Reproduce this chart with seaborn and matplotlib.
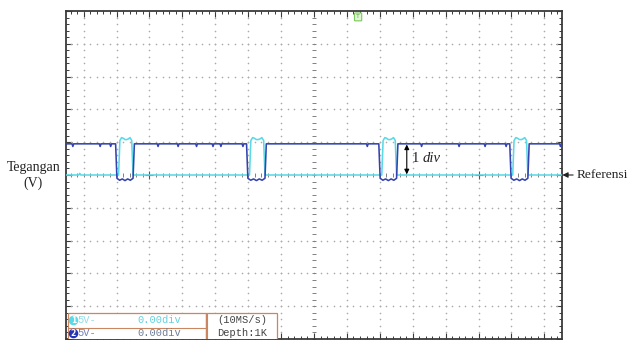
import numpy as np
import pandas as pd
import matplotlib
matplotlib.use("Agg")
import matplotlib.pyplot as plt
from matplotlib.patches import Rectangle, FancyBboxPatch
import seaborn as sns

# ---- screen values, in divisions (center of screen = 0, 0) ----
X_MIN, X_MAX = -7.55, 7.55
Y_MIN, Y_MAX = -5.0, 5.0

# channel 2 (blue): idle level and the low stretches while channel 1 pulses
blue_high = 0.95
pulse_start = [-6.02, -2.04, 1.98, 5.96]
pulse_end = [-5.47, -1.46, 2.54, 6.53]
blue_low_profile = [-0.10, -0.16, -0.12, -0.17, -0.12, -0.16, -0.10]
blue_glitches = [-7.33, -6.50, -6.18, -4.74, -4.13, -3.57, -3.07, -2.83,
                 -2.16, 1.62, 3.27, 4.41, 5.20, 5.84, 7.49]
blue_glitch_depth = 0.08

# channel 1 (cyan): reference level and pulse tops
cyan_base = 0.0
cyan_rise_delay = 0.09
cyan_fall_lead = 0.04
cyan_high_profile = [1.05, 1.14, 1.12, 1.08, 1.08, 1.10, 1.14, 1.05]
cyan_bumps = [-7.12]
cyan_bump_height = 0.05

trigger_pos = 1.34
div_arrow_x = 2.82

ch_scale = ["5V-", "5V-"]
ch_offset = ["0.00div", "0.00div"]
acq_info = ["(10MS/s)", "Depth:1K"]

BLUE = "#3443ae"
CYAN = "#5ad9e6"
FRAME = "#3a3a3a"
GRIDC = "#ababab"
BOXC = "#c98660"


def blue_trace():
    pts = [(X_MIN, blue_high)]
    for g in blue_glitches:
        pts += [(g - 0.025, blue_high), (g, blue_high - blue_glitch_depth),
                (min(g + 0.025, X_MAX), blue_high)]
    for s, e in zip(pulse_start, pulse_end):
        xs = np.linspace(s + 0.03, e - 0.03, len(blue_low_profile))
        pts += [(s - 0.01, blue_high)]
        pts += list(zip(xs, blue_low_profile))
        pts += [(e + 0.01, blue_high)]
    pts.append((X_MAX, blue_high))
    pts.sort(key=lambda p: p[0])
    return pts


def cyan_trace():
    pts = [(X_MIN, cyan_base)]
    for b in cyan_bumps:
        pts += [(b - 0.03, cyan_base), (b, cyan_base + cyan_bump_height),
                (b + 0.03, cyan_base)]
    for s, e in zip(pulse_start, pulse_end):
        a, b = s + cyan_rise_delay, e - cyan_fall_lead
        xs = np.linspace(a + 0.03, b - 0.03, len(cyan_high_profile))
        pts += [(a - 0.01, cyan_base)]
        pts += list(zip(xs, cyan_high_profile))
        pts += [(b + 0.01, cyan_base)]
    pts.append((X_MAX, cyan_base))
    pts.sort(key=lambda p: p[0])
    return pts


traces = {"CH1": np.array(cyan_trace()), "CH2": np.array(blue_trace())}

sns.set_theme(style="white")
plt.rcParams["font.family"] = ["DejaVu Sans"]

fig = plt.figure(figsize=(6.32, 3.40), dpi=100)
ax = fig.add_axes([65.6 / 632, 1.0 / 340, 496.8 / 632, 328.0 / 340])
ax.set_xlim(X_MIN, X_MAX)
ax.set_ylim(Y_MIN, Y_MAX)

# dotted graticule
dot_kw = dict(s=1.4, color=GRIDC, linewidths=0, zorder=1)
ys = np.arange(-5.0, 5.0001, 0.2)
xs_all = np.arange(-7.4, 7.5001, 0.2)
for gx in range(-7, 8):
    if gx == 0:
        continue
    ax.scatter(np.full_like(ys, gx), ys, **dot_kw)
for gy in range(-4, 5):
    if gy == 0:
        continue
    ax.scatter(xs_all, np.full_like(xs_all, gy), **dot_kw)
# center axes with small ticks
ax.scatter(np.zeros_like(ys), ys, marker="_", s=9, color="#808080",
           linewidths=0.7, zorder=1)
ax.scatter(xs_all, np.zeros_like(xs_all), marker="|", s=9, color="#808080",
           linewidths=0.7, zorder=1)
ax.scatter([-5, 5], [0, 0], marker="+", s=40, color="#555555",
           linewidths=0.8, zorder=1)

# the two channel traces
for name, col in (("CH1", CYAN), ("CH2", BLUE)):
    arr = traces[name]
    sns.lineplot(x=arr[:, 0], y=arr[:, 1], sort=False, estimator=None,
                 color=col, linewidth=1.15, ax=ax, zorder=3)

ax.set_xlabel("")
ax.set_ylabel("")
ax.set_xticks(np.arange(-7, 8, 1))
ax.set_yticks(np.arange(-5, 6, 1))
ax.set_xticks(np.arange(-7.4, 7.55, 0.2), minor=True)
ax.set_yticks(np.arange(-5, 5.01, 0.2), minor=True)
ax.tick_params(which="both", direction="in", top=True, right=True,
               bottom=True, left=True, labelbottom=False, labelleft=False,
               color=FRAME)
ax.tick_params(which="major", length=4, width=0.8)
ax.tick_params(which="minor", length=2.5, width=0.7)
for sp in ax.spines.values():
    sp.set_color(FRAME)
    sp.set_linewidth(1.3)

# trigger marker
ax.add_patch(FancyBboxPatch((trigger_pos - 0.09, 4.72), 0.18, 0.2,
                            boxstyle="round,pad=0.02", facecolor="#dff5d4",
                            edgecolor="#7cc95e", linewidth=0.8, zorder=5))
ax.text(trigger_pos, 4.82, "T", ha="center", va="center", fontsize=4.5,
        color="#5aa83e", zorder=6)

# 1 div marker
ax.annotate("", xy=(div_arrow_x, blue_high - 0.02), xytext=(div_arrow_x, 0.02),
            arrowprops=dict(arrowstyle="<|-|>", color="black", lw=0.8,
                            mutation_scale=7, shrinkA=0, shrinkB=0), zorder=6)
ax.text(2.98, 0.50, "1", fontsize=10.5, family="Liberation Serif",
        ha="left", va="center", color="#222222")
ax.text(3.30, 0.50, "div", fontsize=10.5, family="Liberation Serif",
        style="italic", ha="left", va="center", color="#222222")

# channel / acquisition info box
box_top, box_mid = -4.21, -4.65
box_l, box_div, box_r = -7.47, -3.28, -1.12
for (x0, x1) in ((box_l, box_div), (box_div, box_r)):
    ax.add_patch(Rectangle((x0, Y_MIN - 0.05), x1 - x0, box_top - Y_MIN + 0.05,
                           facecolor="white", edgecolor=BOXC, linewidth=0.9,
                           zorder=7))
ax.plot([box_l, box_div], [box_mid, box_mid], color=BOXC, lw=0.8, zorder=8)
ax.plot([box_div + 0.04, box_div + 0.04], [Y_MIN, box_top], color=BOXC,
        lw=0.8, zorder=8)
row_y = [-4.43, -4.83]
circ_cols = [CYAN, "#2436b5"]
scale_cols = ["#8fdde8", "#6f7fb8"]
off_cols = ["#62d2e0", "#6e7d98"]
for i in range(2):
    ax.scatter([-7.31], [row_y[i]], s=48, color=circ_cols[i], zorder=9,
               linewidths=0)
    ax.text(-7.31, row_y[i], str(i + 1), fontsize=5.5, color="white",
            fontweight="bold", ha="center", va="center", zorder=10)
    ax.text(-7.18, row_y[i], ch_scale[i], fontsize=7.5, family="Liberation Mono",
            color=scale_cols[i], ha="left", va="center", zorder=10)
    ax.text(-5.36, row_y[i], ch_offset[i], fontsize=7.5,
            family="Liberation Mono", color=off_cols[i], ha="left",
            va="center", zorder=10)
    ax.text((box_div + box_r) / 2 + 0.03, row_y[i], acq_info[i], fontsize=7.5,
            family="Liberation Mono", color="#444444", ha="center",
            va="center", zorder=10)

# outside labels
fig.text(33.5 / 632, 1 - 175.5 / 340, "Tegangan\n(V)", ha="center",
         va="center", fontsize=10, family="Liberation Serif", color="#222222",
         linespacing=1.15)
ax.annotate("Referensi", xy=(X_MAX, 0), xycoords="data", xytext=(14, 0),
            textcoords="offset pixels", ha="left", va="center", fontsize=9.6,
            family="Liberation Serif", color="#222222", annotation_clip=False,
            arrowprops=dict(arrowstyle="-|>", color="#222222", lw=0.8,
                            mutation_scale=8, shrinkA=0, shrinkB=0))

fig.savefig("out.png", dpi=100, facecolor="white")
